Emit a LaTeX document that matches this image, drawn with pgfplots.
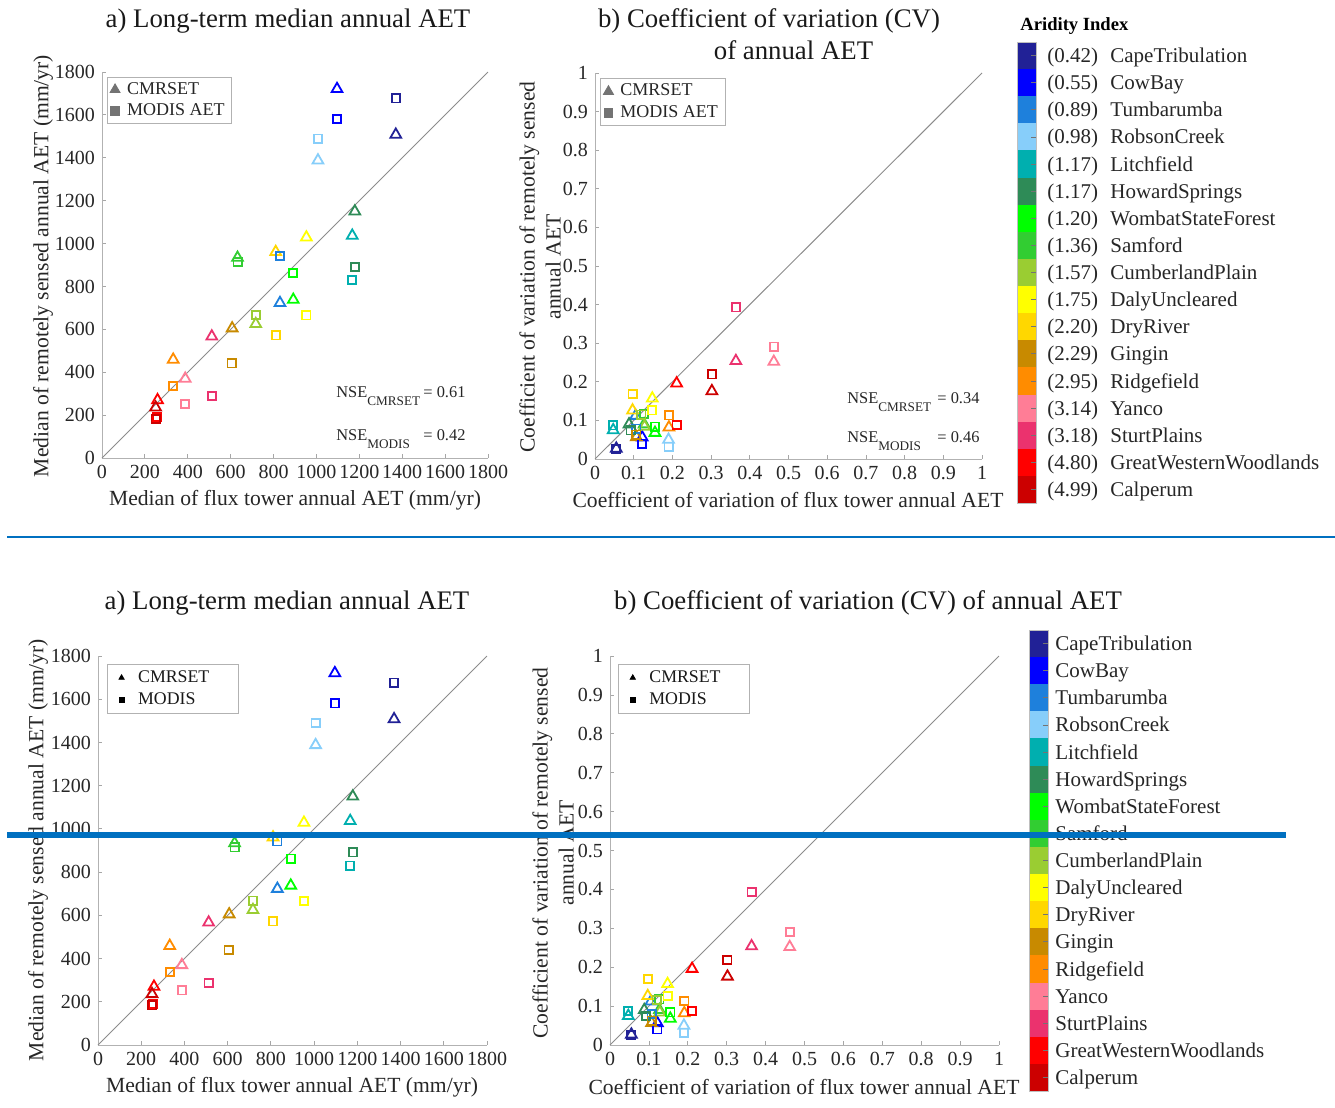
\documentclass[border=0pt]{standalone}
\usepackage{pgfplots}
\pgfplotsset{compat=1.18}
\usepackage{pgfplotstable}
\usepackage{fontspec}
\setmainfont{Liberation Serif}

\definecolor{s0}{RGB}{33,33,150}
\definecolor{s1}{RGB}{0,0,255}
\definecolor{s2}{RGB}{30,128,220}
\definecolor{s3}{RGB}{135,206,250}
\definecolor{s4}{RGB}{0,175,175}
\definecolor{s5}{RGB}{46,139,87}
\definecolor{s6}{RGB}{0,255,0}
\definecolor{s7}{RGB}{50,205,50}
\definecolor{s8}{RGB}{154,205,50}
\definecolor{s9}{RGB}{255,255,0}
\definecolor{s10}{RGB}{255,215,0}
\definecolor{s11}{RGB}{200,138,0}
\definecolor{s12}{RGB}{255,140,0}
\definecolor{s13}{RGB}{255,125,150}
\definecolor{s14}{RGB}{235,50,110}
\definecolor{s15}{RGB}{255,0,0}
\definecolor{s16}{RGB}{204,0,0}
\definecolor{bl}{RGB}{0,112,192}

% long-term median annual AET: flux tower (x), remote sensing (y), site index (c)
\pgfplotstableread{
x y c
1370 1508 0
1096 1721 1
830 723 2
1007 1388 3
1167 1037 4
1179 1150 5
892 738 6
632 934 7
717 625 8
953 1029 9
810 961 10
607 605 11
332 459 12
388 370 13
512 567 14
259 270 15
250 236 16
}\aetC
\pgfplotstableread{
x y c
1370 1677 0
1096 1581 1
830 942 2
1007 1489 3
1167 830 4
1179 891 5
892 863 6
632 914 7
717 668 8
953 665 9
810 572 10
604 441 11
332 337 12
388 253 13
512 288 14
256 191 15
250 183 16
}\aetM
% coefficient of variation
\pgfplotstableread{
x y c
0.055 0.027 0
0.122 0.056 1
0.105 0.112 2
0.190 0.050 3
0.047 0.075 4
0.088 0.090 5
0.155 0.068 6
0.127 0.090 7
0.128 0.084 8
0.148 0.157 9
0.097 0.126 10
0.107 0.057 11
0.191 0.082 12
0.462 0.252 13
0.364 0.254 14
0.211 0.196 15
0.302 0.176 16
}\cvC
\pgfplotstableread{
x y c
0.055 0.026 0
0.122 0.040 1
0.107 0.079 2
0.190 0.032 3
0.047 0.087 4
0.092 0.074 5
0.155 0.084 6
0.127 0.117 7
0.120 0.115 8
0.148 0.126 9
0.097 0.169 10
0.107 0.063 11
0.191 0.113 12
0.462 0.291 13
0.364 0.393 14
0.211 0.088 15
0.302 0.219 16
}\cvM

\pgfplotsset{
  base/.style={
    scale only axis, clip=false,
    axis lines=left, axis line style={-, draw=black!30},
    tick align=inside, major tick length=2pt,
    tick style={black!35, line width=0.4pt},
    tick label style={font=\fontsize{10}{12}\selectfont, text=black!85},
    /pgf/number format/assume math mode=true,
    /pgf/number format/1000 sep={},
    legend cell align=left,
    legend image code/.code={\draw[##1] plot coordinates {(0pt,0pt)};},
  },
  aetax/.style={base, xmin=0, xmax=1800, ymin=0, ymax=1800,
    xtick={0,200,...,1800}, ytick={0,200,...,1800}},
  cvax/.style={base, xmin=0, xmax=1, ymin=0, ymax=1,
    xtick={0,0.1,0.2,0.3,0.4,0.5,0.6,0.7,0.8,0.9,1},
    ytick={0,0.1,0.2,0.3,0.4,0.5,0.6,0.7,0.8,0.9,1}},
  toplegend/.style={legend style={at={(#1)}, anchor=north west, draw=black!30, fill=white,
    font=\fontsize{9}{10}\selectfont, text=black!85, inner xsep=1.5pt, inner ysep=1pt,
    nodes={inner ysep=1.6pt, inner xsep=2pt}, column sep=1.5pt, row sep=0pt}},
  botlegend/.style={legend style={at={(#1)}, anchor=north west, draw=black!30, fill=white,
    font=\fontsize{8.9}{10}\selectfont, text=black!90, inner xsep=6pt, inner ysep=1pt,
    nodes={inner ysep=1.9pt, inner xsep=2pt}, column sep=5pt, row sep=0pt}},
  sites/.style={scatter, only marks, line width=0.9pt, scatter src=explicit symbolic, forget plot,
    scatter/classes={0={s0},1={s1},2={s2},3={s3},4={s4},5={s5},6={s6},7={s7},8={s8},
      9={s9},10={s10},11={s11},12={s12},13={s13},14={s14},15={s15},16={s16}}},
  tri/.style={sites, mark=triangle, mark size=3.1pt},
  sq/.style={sites, mark=square, mark size=2.05pt},
  oneone/.style={black!45, line width=0.5pt, forget plot},
}

\begin{document}
\begin{tikzpicture}
\useasboundingbox (0pt,0pt) rectangle (667.5pt,-554pt);

% ---------- top left ----------
\begin{axis}[aetax, at={(51pt,-229pt)}, anchor=south west, width=193pt, height=193pt,
  toplegend={0.012,0.988}]
\addplot[oneone] coordinates {(0,0) (1800,1800)};
\addplot[tri] table[x=x,y=y,meta=c]{\aetC};
\addplot[sq] table[x=x,y=y,meta=c]{\aetM};
\addlegendimage{only marks, mark=triangle*, mark size=2.9pt, black!55}
\addlegendentry{CMRSET}
\addlegendimage{only marks, mark=square*, mark size=2.1pt, black!55}
\addlegendentry{MODIS AET}
\end{axis}

% ---------- top middle ----------
\begin{axis}[cvax, at={(297.5pt,-229.5pt)}, anchor=south west, width=193.5pt, height=193pt,
  toplegend={0.013,0.986}]
\addplot[oneone] coordinates {(0,0) (1,1)};
\addplot[tri] table[x=x,y=y,meta=c]{\cvC};
\addplot[sq] table[x=x,y=y,meta=c]{\cvM};
\addlegendimage{only marks, mark=triangle*, mark size=2.9pt, black!55}
\addlegendentry{CMRSET}
\addlegendimage{only marks, mark=square*, mark size=2.1pt, black!55}
\addlegendentry{MODIS AET}
\end{axis}

% ---------- bottom left ----------
\begin{axis}[aetax, at={(49pt,-522.5pt)}, anchor=south west, width=194.5pt, height=194.5pt,
  botlegend={0.022,0.979}]
\addplot[oneone] coordinates {(0,0) (1800,1800)};
\addplot[tri] table[x=x,y=y,meta=c]{\aetC};
\addplot[sq] table[x=x,y=y,meta=c]{\aetM};
\addlegendimage{only marks, mark=triangle*, mark size=1.5pt, black}
\addlegendentry{\makebox[42pt][l]{CMRSET}}
\addlegendimage{only marks, mark=square*, mark size=1.2pt, black}
\addlegendentry{MODIS}
\end{axis}

% ---------- bottom middle ----------
\begin{axis}[cvax, at={(305pt,-522.5pt)}, anchor=south west, width=194.5pt, height=194.5pt,
  botlegend={0.020,0.979}]
\addplot[oneone] coordinates {(0,0) (1,1)};
\addplot[tri] table[x=x,y=y,meta=c]{\cvC};
\addplot[sq] table[x=x,y=y,meta=c]{\cvM};
\addlegendimage{only marks, mark=triangle*, mark size=1.5pt, black}
\addlegendentry{\makebox[42pt][l]{CMRSET}}
\addlegendimage{only marks, mark=square*, mark size=1.2pt, black}
\addlegendentry{MODIS}
\end{axis}

\begin{scope}[x=0.5pt,y=-0.5pt]
\tikzset{ttl/.style={font=\fontsize{13.4}{15.5}\selectfont, text=black!90},
         lbl/.style={font=\fontsize{10.8}{13}\selectfont, text=black!85},
         nse/.style={font=\fontsize{8.2}{10}\selectfont, text=black!85, anchor=base west, inner sep=0pt},
         cbl/.style={font=\fontsize{10.5}{12}\selectfont, text=black!85, anchor=base west, inner sep=0pt}}
\newcommand{\sub}[1]{\raisebox{-4pt}{\fontsize{6.6}{8}\selectfont #1}}
% titles
\node[ttl, anchor=base] at (288,27) {a) Long-term median annual AET};
\node[ttl, anchor=base] at (769,27) {b) Coefficient of variation (CV)};
\node[ttl, anchor=base] at (793.5,59) {of annual AET};
\node[ttl, anchor=base] at (287,609) {a) Long-term median annual AET};
\node[ttl, anchor=base] at (868,609) {b) Coefficient of variation (CV) of annual AET};
% axis labels
\node[lbl] at (295,500) {Median of flux tower annual AET (mm/yr)};
\node[lbl, rotate=90] at (43,266) {Median of remotely sensed annual AET (mm/yr)};
\node[lbl] at (788,500) {Coefficient of variation of flux tower annual AET};
\node[lbl, rotate=90, align=center] at (540,267) {Coefficient of variation of remotely sensed\\annual AET};
\node[lbl] at (292,1087) {Median of flux tower annual AET (mm/yr)};
\node[lbl, rotate=90] at (38,850) {Median of remotely sensed annual AET (mm/yr)};
\node[lbl] at (804,1087) {Coefficient of variation of flux tower annual AET};
\node[lbl, rotate=90, align=center] at (553,853) {Coefficient of variation of remotely sensed\\annual AET};
% NSE
\node[nse] at (336,397) {NSE\sub{CMRSET}};
\node[nse] at (423,397) {= 0.61};
\node[nse] at (336,440) {NSE\sub{MODIS}};
\node[nse] at (423,440) {= 0.42};
\node[nse] at (847,403) {NSE\sub{CMRSET}};
\node[nse] at (937,403) {= 0.34};
\node[nse] at (847,442) {NSE\sub{MODIS}};
\node[nse] at (937,442) {= 0.46};
% colour bars
\node[anchor=base west, inner sep=0pt, font=\bfseries\fontsize{9.3}{11}\selectfont] at (1020,31) {Aridity Index};
\foreach \i in {0,...,16} {
  \fill[color=s\i] (1017,{42+27.12*\i}) rectangle (1036,{42+27.12*(\i+1)});
  \draw[black!55, line width=0.4pt] (1031,{42+27.12*(\i+0.5)}) -- (1036,{42+27.12*(\i+0.5)});
  \fill[color=s\i] (1029,{630+27.12*\i}) rectangle (1048,{630+27.12*(\i+1)});
  \draw[black!55, line width=0.4pt] (1043,{630+27.12*(\i+0.5)}) -- (1048,{630+27.12*(\i+0.5)});
}
\draw[black!25, line width=0.4pt] (1017,42) rectangle (1036,503);
\draw[black!25, line width=0.4pt] (1029,630) rectangle (1048,1091);
\foreach \i/\a/\n in {0/0.42/CapeTribulation, 1/0.55/CowBay, 2/0.89/Tumbarumba, 3/0.98/RobsonCreek,
  4/1.17/Litchfield, 5/1.17/HowardSprings, 6/1.20/WombatStateForest, 7/1.36/Samford,
  8/1.57/CumberlandPlain, 9/1.75/DalyUncleared, 10/2.20/DryRiver, 11/2.29/Gingin,
  12/2.95/Ridgefield, 13/3.14/Yanco, 14/3.18/SturtPlains, 15/4.80/GreatWesternWoodlands,
  16/4.99/Calperum} {
  \node[cbl] at (1047,{42+27.12*(\i+0.5)+7}) {(\a)};
  \node[cbl] at (1110,{42+27.12*(\i+0.5)+7}) {\n};
  \node[cbl] at (1055,{630+27.12*(\i+0.5)+7}) {\n};
}
% separator lines
\draw[bl, line width=1pt] (7,537) -- (1335,537);
\draw[bl, line width=2.6pt] (7,835) -- (1286,835);
\end{scope}
\end{tikzpicture}
\end{document}
